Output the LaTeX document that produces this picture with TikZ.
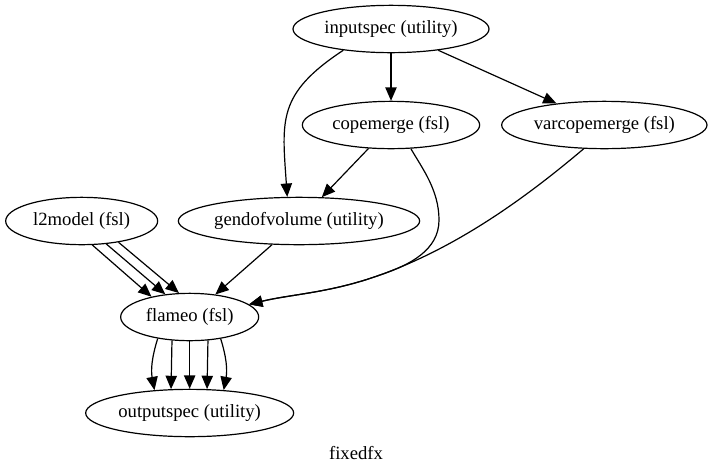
\documentclass[tikz,border=0pt]{standalone}
\usepackage{fontspec}
\setmainfont{Liberation Serif}
\usepackage{tikz}
\usetikzlibrary{positioning}
\usetikzlibrary{shapes.geometric}
\usetikzlibrary{arrows.meta}

\begin{document}
\begin{tikzpicture}[x=0.75pt, y=-0.75pt,
    node distance=72pt, on grid,
    every node/.style={font=\fontsize{14pt}{17pt}\selectfont},
    unit/.style={ellipse, draw, line width=0.9pt, inner sep=0pt, minimum height=35.5pt,
      execute at begin node={\hbox to 0pt\bgroup\hss}, execute at end node={\hss\egroup}},
    conn/.style={-{Triangle[length=10pt, width=8.5pt]}, line width=0.9pt}]

    \useasboundingbox (0,0) rectangle (713,472);

    % Define nodes
    \node[unit, minimum width=147pt] (inputspec) at (391,29) {inputspec (utility)};
    \node[unit, minimum width=133pt, below=of inputspec] (copemerge) {copemerge (fsl)};
    \node[unit, minimum width=154pt, right=160pt of copemerge] (varcopemerge) {varcopemerge (fsl)};
    \node[unit, minimum width=181pt, below left=72pt and 69pt of copemerge] (gendofvolume) {gendofvolume (utility)};
    \node[unit, minimum width=114pt, left=163pt of gendofvolume] (l2model) {l2model (fsl)};
    \node[unit, minimum width=103.5pt, below left=72pt and 82pt of gendofvolume] (flameo) {flameo (fsl)};
    \node[unit, minimum width=156pt, below=of flameo] (outputspec) {outputspec (utility)};
    \node (fixedfx) at (356,453) {fixedfx};

    % Connect the nodes
    \draw[conn] (inputspec) -- (copemerge);
    \draw[conn] (inputspec) -- (varcopemerge);
    \draw[conn] (inputspec.204) .. controls (277,94) and (282,120) .. (gendofvolume.116);
    \draw[conn] (copemerge) -- (gendofvolume);
    \draw[conn] (copemerge.-50) .. controls (422,168) and (439,190) .. (439,220)
        .. controls (439,250) and (410,265) .. (380,275)
        .. controls (330,293) and (292,294) .. (flameo.12);
    \draw[conn] (varcopemerge.-131) .. controls (522,201) and (455,248) .. (380,275)
        .. controls (330,293) and (292,294) .. (flameo.12);
    \draw[conn] (gendofvolume) -- (flameo);
    \foreach \s/\t in {-66/152, -43/137, -30/114}
        \draw[conn] (l2model.\s) -- (flameo.\t);
    \foreach \s/\t/\b in {-146/147/14, -127/128/0, -90/90/0, -52/54/0, -35/34/-14}
        \draw[conn] (flameo.\s) to[bend right=\b] (outputspec.\t);

\end{tikzpicture}
\end{document}
